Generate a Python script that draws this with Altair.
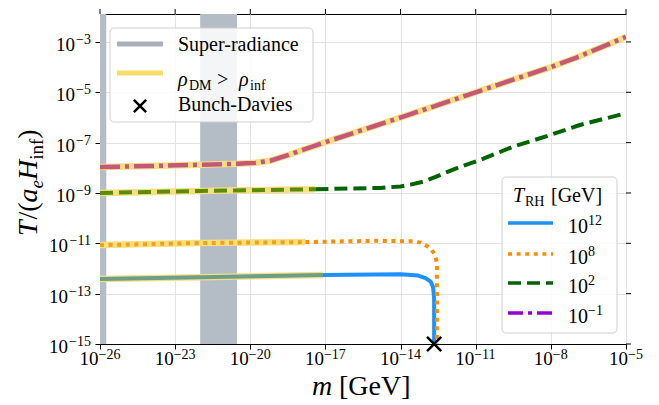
import altair as alt
import pandas as pd

# ---------------- data: log10 values ----------------
# Super-radiance excluded windows, log10(m / GeV)
band_lo = [-26.6, -22.0]
band_hi = [-25.75, -20.53]

# T_RH = 1e12 GeV (solid)
logm_12 = [-26, -22, -17.1, -14, -13.3, -13.0, -12.8, -12.7, -12.66, -12.66]
logT_12 = [-12.42, -12.35, -12.26, -12.23, -12.28, -12.38, -12.52, -12.75, -13.2, -15.0]
cut_12 = -17.1

# T_RH = 1e8 GeV (dotted)
logm_8 = [-26, -22, -17.8, -15, -13.6, -13.2, -12.83, -12.62, -12.55, -12.55]
logT_8 = [-11.07, -10.99, -10.95, -10.90, -10.92, -10.97, -11.18, -11.45, -11.8, -15.0]
cut_8 = -17.8

# T_RH = 1e2 GeV (dashed)
logm_2 = [-26, -22, -18, -17.4, -16, -14.8, -14.0, -13.6, -13.1, -12.6, -12.15, -11.5,
          -10.83, -9.5, -8.16, -6.84, -5]
logT_2 = [-9.0, -8.92, -8.86, -8.85, -8.82, -8.80, -8.74, -8.67, -8.55, -8.36, -8.17, -7.92,
          -7.69, -7.16, -6.74, -6.30, -5.83]
cut_2 = -17.4

# T_RH = 1e-1 GeV (dash-dot), all inside rho_DM > rho_inf
logm_m1 = [-26, -24, -22, -20.5, -19.8, -19.2, -18.5, -18, -17, -15, -13, -11, -9, -8, -7, -5]
logT_m1 = [-7.97, -7.93, -7.88, -7.84, -7.80, -7.72, -7.50, -7.32, -6.98, -6.33, -5.67,
           -5.0, -4.33, -4.0, -3.63, -2.8]
cut_m1 = -5

# Bunch-Davies point
bd_logm = [-12.66]
bd_logT = [-15.0]

x_tick_exp = [-26, -23, -20, -17, -14, -11, -8, -5]
y_tick_exp = [-15, -13, -11, -9, -7, -5, -3]

# ---------------- layout ----------------
W, H = 526, 330
FONT = "Liberation Serif"

xs = alt.Scale(type="log", domain=[1e-26, 1e-5], nice=False)
ys = alt.Scale(type="log", domain=[1e-15, 10 ** -1.89], nice=False)
x_vals = [10.0 ** e for e in x_tick_exp]
y_vals = [10.0 ** e for e in y_tick_exp]
ax_x = alt.Axis(values=x_vals, labels=False, title=None, tickSize=5, tickColor="black",
                domainColor="black", grid=True, gridColor="#e2e2e2", gridWidth=1)
ax_y = alt.Axis(values=y_vals, labels=False, title=None, tickSize=5, tickColor="black",
                domainColor="black", grid=True, gridColor="#e2e2e2", gridWidth=1)
X = alt.X("m:Q", scale=xs, axis=ax_x)
Y = alt.Y("T:Q", scale=ys, axis=ax_y)


def curve_df(lm, lt):
    return pd.DataFrame({"i": list(range(len(lm))), "lm": lm,
                         "m": [10.0 ** v for v in lm], "T": [10.0 ** v for v in lt]})


def parts(lm, lt, cut):
    df = curve_df(lm, lt)
    return df[df.lm <= cut], df[df.lm >= cut]


def line(df, color, width, dash=None):
    kw = dict(color=color, strokeWidth=width, clip=True, strokeCap="butt", strokeJoin="round")
    if dash:
        kw["strokeDash"] = dash
    return alt.Chart(df).mark_line(**kw).encode(x=X, y=Y, order="i:Q")


hl12, pl12 = parts(logm_12, logT_12, cut_12)
hl8, pl8 = parts(logm_8, logT_8, cut_8)
hl2, pl2 = parts(logm_2, logT_2, cut_2)
hlm1, plm1 = parts(logm_m1, logT_m1, cut_m1)

YEL = "#f6df82"
layers = []

# super-radiance bands
bands = pd.DataFrame({"m": [10.0 ** v for v in band_lo], "m2": [10.0 ** v for v in band_hi]})
layers.append(alt.Chart(bands).mark_rect(color="#b4bcc5", clip=True).encode(
    x=X, x2="m2:Q", y=alt.value(0), y2=alt.value(H)))

# rho_DM > rho_inf highlight
for d in (hl12, hl8, hl2, hlm1):
    layers.append(line(d, YEL, 6.5))

# curves
layers.append(line(hl12, "#6c9e8a", 4))
layers.append(line(pl12, "#1e90ff", 4))
layers.append(line(hl8, "#f3a312", 4, [4, 4.6]))
layers.append(line(pl8, "#ff8c00", 4, [4, 4.6]))
layers.append(line(hl2, "#5a8c08", 4, [13, 6]))
layers.append(line(pl2, "#006400", 4, [13, 6]))
layers.append(line(hlm1, "#c4587b", 4.5, [20, 5, 4, 5]))

# Bunch-Davies cross
bd = curve_df(bd_logm, bd_logT)
CROSS = "M-1,-1L1,1M-1,1L1,-1"
layers.append(alt.Chart(bd).mark_point(shape=CROSS, size=200, strokeWidth=2.5, color="black",
                                       filled=False, opacity=1).encode(x=X, y=Y))

# top & right ticks
xt = pd.DataFrame({"m": x_vals})
yt = pd.DataFrame({"T": y_vals})
layers.append(alt.Chart(xt).mark_rule(color="black", strokeWidth=1).encode(
    x=X, y=alt.value(-5), y2=alt.value(0)))
layers.append(alt.Chart(yt).mark_rule(color="black", strokeWidth=1).encode(
    y=Y, x=alt.value(W), x2=alt.value(W + 5)))

# tick labels (10 + superscript exponent)
xl = pd.DataFrame({"m": x_vals, "e": ["\u2212" + str(abs(e)) for e in x_tick_exp]})
yl = pd.DataFrame({"T": y_vals, "e": ["\u2212" + str(abs(e)) for e in y_tick_exp]})
for cond, dxb in (("length(datum.e) > 2", -1.5), ("length(datum.e) <= 2", 2)):
    layers.append(alt.Chart(xl).transform_filter(cond).mark_text(
        text="10", font=FONT, fontSize=19, align="right", baseline="alphabetic",
        dx=dxb, dy=0, color="black").encode(x=X, y=alt.value(H + 21)))
    layers.append(alt.Chart(xl).transform_filter(cond).mark_text(
        font=FONT, fontSize=14, align="left", baseline="alphabetic", dx=dxb, color="black"
    ).encode(x=X, y=alt.value(H + 15), text="e:N"))
for cond, xb in (("length(datum.e) > 2", -32), ("length(datum.e) <= 2", -25)):
    layers.append(alt.Chart(yl).transform_filter(cond).mark_text(
        text="10", font=FONT, fontSize=19, align="right", baseline="alphabetic",
        dy=9, color="black").encode(y=Y, x=alt.value(xb)))
    layers.append(alt.Chart(yl).transform_filter(cond).mark_text(
        font=FONT, fontSize=14, align="right", baseline="alphabetic", dy=2, color="black"
    ).encode(y=Y, x=alt.value(-9), text="e:N"))

one = pd.DataFrame({"k": [0]})


def txt(s, x, y, size=20, style="normal", align="left", angle=0, dx=0, dy=0):
    return alt.Chart(one).mark_text(
        text=s, font=FONT, fontSize=size, fontStyle=style, align=align, baseline="alphabetic",
        angle=angle, dx=dx, dy=dy, color="black").encode(x=alt.value(x), y=alt.value(y))


def rule(x1, x2, y, color, width, dash=None):
    kw = dict(color=color, strokeWidth=width, strokeCap="butt")
    if dash:
        kw["strokeDash"] = dash
    return alt.Chart(one).mark_rule(**kw).encode(x=alt.value(x1), x2=alt.value(x2), y=alt.value(y))


def box(x1, x2, y1, y2):
    return alt.Chart(one).mark_rect(fill="white", fillOpacity=0.85, stroke="#cfcfcf",
                                    strokeWidth=1, cornerRadius=4).encode(
        x=alt.value(x1), x2=alt.value(x2), y=alt.value(y1), y2=alt.value(y2))


# legend 1
layers.append(box(10, 213, 14, 108))
layers.append(rule(17, 63, 30, "#a9b1bb", 5))
layers.append(txt("Super-radiance", 78, 37))
layers.append(rule(17, 63, 59, "#f8dc6a", 5))
layers.append(txt("\u03c1", 78, 72, style="italic"))
layers.append(txt("DM", 89, 76, size=14))
layers.append(txt(">", 117, 72))
layers.append(txt("\u03c1", 139, 72, style="italic"))
layers.append(txt("inf", 150, 76, size=14))
layers.append(alt.Chart(one).mark_point(shape=CROSS, size=150, strokeWidth=2.5, color="black",
                                        filled=False, opacity=1).encode(
    x=alt.value(40), y=alt.value(92)))
layers.append(txt("Bunch-Davies", 78, 97))

# legend 2
layers.append(box(402, 517, 163, 319))
layers.append(txt("T", 413, 188, style="italic"))
layers.append(txt("RH", 425, 192, size=14))
layers.append(txt("[GeV]", 451, 188))
leg_rows = [(209, "#1e90ff", None, "12"), (240, "#ff8c00", [4, 4.6], "8"),
            (269, "#006400", [13, 6], "2"), (299, "#9400d3", [15, 5, 4, 5], "\u22121")]
for yy, col, dash, ex in leg_rows:
    layers.append(rule(408, 453, yy, col, 3.5, dash))
    layers.append(txt("10", 468, yy + 10))
    layers.append(txt(ex, 488, yy + 2, size=14))

# axis titles
layers.append(txt("m", 212, H + 51, size=28, style="italic"))
layers.append(txt("[GeV]", 239, H + 51, size=28))
yt_x, yt_y = -63, 222
for s, off, size, style, sub in (("T", 0, 28, "italic", 0), ("/(", 16.5, 28, "normal", 0),
                                 ("a", 33.6, 28, "italic", 0), ("e", 47.6, 19, "italic", 6),
                                 ("H", 56, 28, "italic", 0), ("inf", 76.2, 19, "normal", 6),
                                 (")", 97.3, 28, "normal", 0)):
    layers.append(txt(s, yt_x, yt_y, size=size, style=style, angle=270, dx=off, dy=sub))

chart = alt.layer(*layers).properties(
    width=W, height=H,
    autosize=alt.AutoSizeParams(type="none"),
    padding={"left": 100, "top": 14, "right": 33, "bottom": 61},
).configure_view(stroke="black", strokeWidth=1)

chart.save("out.html", embed_options={"renderer": "svg", "actions": False})
